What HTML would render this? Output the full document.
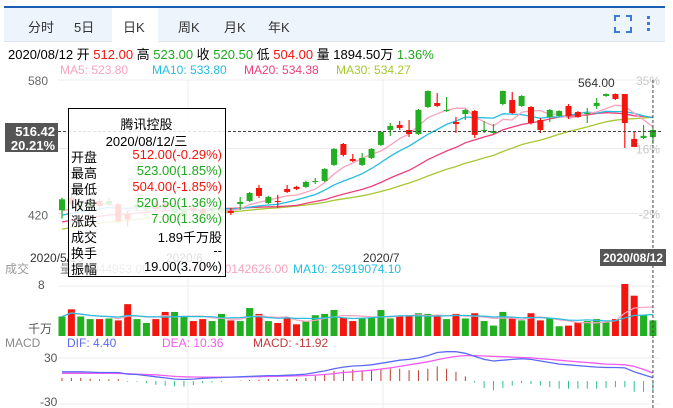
<!DOCTYPE html>
<html><head><meta charset="utf-8">
<style>
body{margin:0;width:673px;height:408px;overflow:hidden;background:#fff;font-family:"Liberation Sans","Noto Sans CJK SC",sans-serif;}
#wrap{position:relative;width:673px;height:408px;}
.t{position:absolute;white-space:nowrap;font-size:13px;}
#tabs{position:absolute;left:4px;top:6px;width:661px;height:33px;background:#eef4fc;border-top:2px solid #1a5fb4;border-bottom:1px solid #dde4ee;}
.tab{position:absolute;top:9px;font-size:13px;color:#333;}
#tip{position:absolute;left:68px;top:108px;width:156px;height:167px;border:1px solid #000;background:rgba(255,255,255,0.85);font-size:13px;}
#tip .r{position:absolute;left:2px;right:3px;height:16px;}
#tip .r span:last-child{position:absolute;right:0;}
</style></head><body>
<div id="wrap">
<div id="tabs">
 <span class="tab" style="left:24px">分时</span>
 <span class="tab" style="left:70px">5日</span>
 <div style="position:absolute;left:108px;top:-2px;width:46px;height:34px;background:#fff;border-top:2px solid #1a5fb4;"><span class="tab" style="left:11px;top:9px">日K</span></div>
 <span class="tab" style="left:174px">周K</span>
 <span class="tab" style="left:220px">月K</span>
 <span class="tab" style="left:264px">年K</span>
 <svg style="position:absolute;left:610px;top:7px" width="18" height="18"><path d="M1 6V1H6M12 1H17V6M17 12V17H12M6 17H1V12" fill="none" stroke="#3a7bd5" stroke-width="2"/></svg>
 <svg style="position:absolute;left:642px;top:7px" width="6" height="18"><rect x="1" y="1" width="3" height="3" fill="#3a7bd5"/><rect x="1" y="7" width="3" height="3" fill="#3a7bd5"/><rect x="1" y="13" width="3" height="3" fill="#3a7bd5"/></svg>
</div>
<div class="t" style="left:8px;top:44px">2020/08/12 开 <span style="color:#f0150f">512.00</span> 高 <span style="color:#1fa81f">523.00</span> 收 <span style="color:#1fa81f">520.50</span> 低 <span style="color:#f0150f">504.00</span> 量 1894.50万 <span style="color:#1fa81f">1.36%</span></div>
<div class="t" style="left:60px;top:63px;font-size:12px;color:#f7a3bd">MA5: 523.80</div>
<div class="t" style="left:152px;top:63px;font-size:12px;color:#25bde0">MA10: 533.80</div>
<div class="t" style="left:244px;top:63px;font-size:12px;color:#ef3f7a">MA20: 534.38</div>
<div class="t" style="left:336px;top:63px;font-size:12px;color:#a5c832">MA30: 534.27</div>
<svg id="chart" width="673" height="408" style="position:absolute;left:0;top:0"></svg>
<div id="tip">
 <div class="r" style="top:5px;text-align:center">腾讯控股</div>
 <div class="r" style="top:22px;text-align:center">2020/08/12/三</div>
 <div class="r" style="top:38px"><span>开盘</span><span style="color:#f0150f">512.00(-0.29%)</span></div>
 <div class="r" style="top:54px"><span>最高</span><span style="color:#1fa81f">523.00(1.85%)</span></div>
 <div class="r" style="top:70px"><span>最低</span><span style="color:#f0150f">504.00(-1.85%)</span></div>
 <div class="r" style="top:86px"><span>收盘</span><span style="color:#1fa81f">520.50(1.36%)</span></div>
 <div class="r" style="top:102px"><span>涨跌</span><span style="color:#1fa81f">7.00(1.36%)</span></div>
 <div class="r" style="top:118px"><span>成交</span><span>1.89千万股</span></div>
 <div class="r" style="top:134px"><span>换手</span><span>--</span></div>
 <div class="r" style="top:150px"><span>振幅</span><span>19.00(3.70%)</span></div>
</div>
</div>
<script>
const opens=[425,440,428,429,436,432,432,421,428,426,432,433,422,420,428,426,424,424,424.1,432.4,436,451.5,433.6,436,450.3,452.7,452.7,458.6,459.8,478.9,503.8,486,478.9,487.2,502.7,520.5,526.5,520.5,515.7,547.9,552.6,543.1,530,539.5,543.1,519.3,516.9,551.4,556.2,549.1,547.9,532.4,536,537.2,549.1,541.9,539.5,549.1,561,563.3,563.3,509.8,511,512];
const highs=[440,445,434,436,438,440,434,424,434,432,436,437,432,430,431,428,431,430,427.7,440.8,446.7,455.1,442,443.2,455.1,454,460,463.4,475,499,505,491.9,493.1,499,519,528.8,531.2,532.4,545.5,567.5,564.5,559.8,536,545.5,544.3,531.2,527.6,567.5,565.7,562,549,534.8,545.5,544,551.4,543,546.7,558.6,564,564,563.3,518.1,526.5,523];
const lows=[415,430,425,427,428,430,410,406,424,424,424,425,420,418,420,419,421,422,419.4,425.3,434.8,439.6,432.4,427.7,445.5,449,451.5,456.2,458.6,477.7,489,482.4,477.7,486,501.5,513.4,520.5,512.2,514.6,546.7,547.9,541.9,517,532.4,511,516.9,514.6,550,539.5,548,527,516.9,530,536,533.6,535,528.8,545.5,560,556.2,499.1,500.3,509.8,504];
const closes=[438,432,430,433,430,436,412,414,431,430,426,428,430,426,424,421,428,428,421.7,434.8,445.5,442,440.8,435,446.7,450.3,458.6,459.8,474.1,497.9,490.8,483.6,487.2,497.9,518.1,525.3,522.9,515.7,544.3,566.9,549.1,544.3,527.6,544.3,514.6,520.5,519.3,566.9,540.7,561,528.8,520.5,544.3,543.1,537.2,536,540.7,552.6,563.3,557.4,528.8,500.3,513.5,520.5];
const priorCloses=[378,380,383,381,385,388,386,390,392,395,393,397,400,398,402,405,403,407,410,412,409,413,416,414,418,420,417,422,424];
const volumes=[3.0,4.1,3.0,2.6,2.6,2.7,2.4,4.9,2.6,2.0,2.6,3.7,3.7,3.0,2.3,2.6,2.3,3.4,2.4,2.3,4.3,3.4,2.3,2.0,2.8,1.8,2.3,3.2,3.4,4.0,2.8,2.3,2.8,2.8,4.0,2.7,3.0,3.1,3.5,3.4,3.1,2.6,3.4,2.7,3.5,2.3,1.6,3.7,2.7,2.4,3.5,2.4,2.7,1.5,1.6,2.1,2.3,2.6,2.1,2.6,8.0,6.2,3.2,2.4];
const difs=[12,12,12,11.5,11,11,11,9,8.5,7,5.5,4,2.5,2,2.5,3.5,4,4.5,5,5.5,6,6.5,7,7,7.5,8,9,11,13,16,18,19.5,20,21,23,25,27,28,30,33,37,38,38,36,32,28,26,27,28,29,28,26,24,22,21,20,19,18,17.5,17.5,17,12,8,4.4];
const deas=[10,10,10,10,10,10,9.8,9.5,9,8.5,8,7,6,5.5,5.2,5,5,5,5,5.2,5.4,5.6,5.8,6,6.3,6.6,7,7.6,8.5,9.6,11,12,13,14,15.5,17,19,21,23,25,27.5,30,32,33,33,32.5,32,31.5,31,30.5,30,29,28,27,26,25,24,23,22,21.5,21,19,15,10.36];
const priceTicks=[580,420];
const pctTicks=["35%","16%","-2%"];
const pctPrices=[580,498.4,421];
const macdTicks=[30,-30];
const dateLabels=["2020/5/13","2020/6","2020/7"];
const dateIdx=[0,13,34];

const NS="http://www.w3.org/2000/svg";
const svg=document.getElementById('chart');
const X0=62,STEP=9.38;
const xs=i=>X0+i*STEP;
const yP=p=>80+(580-p)*0.84;
const yV=v=>336-v*6.5;
const yM=m=>381-m*0.77;
const GREEN="#22b022",RED="#f2160f";
function mk(tag,at,parent){const e=document.createElementNS(NS,tag);for(const k in at)e.setAttribute(k,at[k]);(parent||svg).appendChild(e);return e;}
function txt(s,x,y,at){const e=mk('text',Object.assign({x:x,y:y,'font-size':12,'font-family':'Liberation Sans, Noto Sans CJK SC, sans-serif'},at||{}));e.textContent=s;return e;}

[yP(580),yP(498.4),yP(421),286,358,404].forEach(y=>{const g=mk('line',{x1:58,x2:660,y1:y,y2:y,stroke:'#ececec'});});
[188,383].forEach(x=>{const g=mk('line',{x1:x,x2:x,y1:80,y2:408,stroke:'#ececec'});});

priceTicks.forEach(p=>{const t=txt(String(p),28,yP(p)+5,{fill:'#666'});});
pctTicks.forEach((s,k)=>{const t=txt(s,660,yP(pctPrices[k])+5,{fill:'#c8c8c8','text-anchor':'end'});});

function ma(n){const all=priorCloses.concat(closes),off=priorCloses.length,r=[];for(let i=0;i<closes.length;i++){let s=0,c=0;for(let j=i+off;j>i+off-n&&j>=0;j--){s+=all[j];c++;}r.push(s/c);}return r;}
function line(vals,yf,color,name,w){const pts=vals.map((v,i)=>xs(i).toFixed(1)+','+yf(v).toFixed(1)).join(' ');const l=mk('polyline',{points:pts,fill:'none',stroke:color,'stroke-width':w||1.3});}
line(ma(30),yP,'#a5c832','ma30-line');
line(ma(20),yP,'#ef3f7a','ma20-line');
line(ma(10),yP,'#25bde0','ma10-line');
line(ma(5),yP,'#f7a3bd','ma5-line');

closes.forEach((c,i)=>{const o=opens[i],up=c>=o,col=up?GREEN:RED,x=xs(i);
 const w=mk('line',{x1:x,x2:x,y1:yP(highs[i]),y2:yP(lows[i]),stroke:col,'stroke-width':1.2});
 
 
 const top=yP(Math.max(o,c)),h=Math.max(1,Math.abs(yP(o)-yP(c)));
 const b=mk('rect',{x:x-3,y:top,width:6,height:h,fill:col});
 
 
});
const hl=txt('564.00',578,87,{fill:'#333'});

volumes.forEach((v,i)=>{const col=closes[i]>=opens[i]?GREEN:RED;const r=mk('rect',{x:xs(i)-3.5,y:yV(v),width:7,height:336-yV(v),fill:col});
 
 });
function vma(n){return volumes.map((v,i)=>{let s=0,c=0;for(let j=i;j>i-n&&j>=0;j--){s+=volumes[j];c++;}return s/c;});}
line(vma(5),yV,'#f7a3bd','volume-ma5-line',1.2);
line(vma(10),yV,'#25bde0','volume-ma10-line',1.2);
const v8=txt('8',38,289,{fill:'#555'});
const vu=txt('千万',28,333,{fill:'#555'});
const vt=txt('成交',5,273,{fill:'#999'});
const vq=txt('量: 18944953.00',60,273,{fill:'#888'});
const vm5=txt('MA5: 20142626.00',288,273,{fill:'#f7a3bd','text-anchor':'end'});
const vm10=txt('MA10: 25919074.10',293,273,{fill:'#25bde0'});

difs.forEach((d,i)=>{const m=2*(d-deas[i]);const b=mk('line',{x1:xs(i),x2:xs(i),y1:yM(0),y2:yM(m),stroke:m>=0?'#c0392b':'#2fc08a','stroke-width':1});
 
 });
line(deas,yM,'#f05cf0','dea-line',1.3);
line(difs,yM,'#5b6bf5','dif-line',1.3);
macdTicks.forEach(m=>{const t=txt(String(m),m>0?44:40,yM(m)+(m>0?4:2),{fill:'#555'});});
const mt=txt('MACD',5,347,{fill:'#888'});
const dl=txt('DIF: 4.40',67,347,{fill:'#5b6bf5'});
const el=txt('DEA: 10.36',162,347,{fill:'#f05cf0'});
const ml=txt('MACD: -11.92',253,347,{fill:'#c0393b'});

dateLabels.forEach((s,k)=>{const t=txt(s,k==0?30:xs(dateIdx[k])-18,262,{fill:'#333'});});

const lx=xs(63);
const ch1=mk('line',{x1:lx,x2:lx,y1:80,y2:408,stroke:'#444','stroke-dasharray':'3,2'});
const ch2=mk('line',{x1:58,x2:662,y1:131.5,y2:131.5,stroke:'#444','stroke-dasharray':'3,2'});
const pb=mk('rect',{x:5,y:123,width:53,height:29,fill:'#555'});
const pt1=txt('516.42',55,136,{fill:'#fff','font-weight':'bold','text-anchor':'end','font-size':13});
const pt2=txt('20.21%',55,150,{fill:'#fff','font-weight':'bold','text-anchor':'end','font-size':13});
const db=mk('rect',{x:600,y:249,width:66,height:17,fill:'#555'});
const dt=txt('2020/08/12',633,262,{fill:'#fff','font-weight':'bold','text-anchor':'middle'});
</script>
</body></html>
